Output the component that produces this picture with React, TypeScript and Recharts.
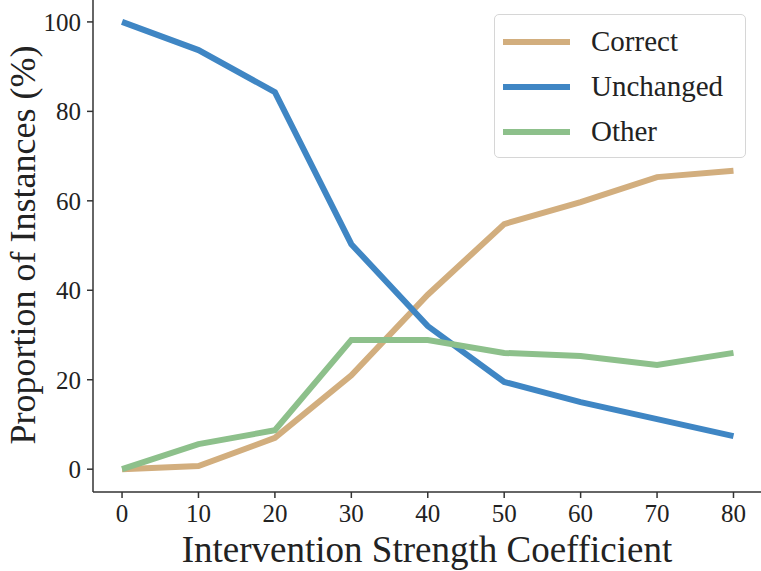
import { LineChart, Line, XAxis, YAxis } from 'recharts';

const strengths = [0, 10, 20, 30, 40, 50, 60, 70, 80];
const correct = [0, 0.7, 7, 21, 39, 54.8, 59.7, 65.3, 66.7];
const unchanged = [100, 93.7, 84.3, 50.3, 32, 19.5, 15, 11.2, 7.4];
const other = [0, 5.6, 8.7, 28.9, 28.9, 26, 25.3, 23.3, 26];
const xTicks = [0, 10, 20, 30, 40, 50, 60, 70, 80];
const yTicks = [0, 20, 40, 60, 80, 100];

const series = [
  { key: 'correct', name: 'Correct', color: '#d2ae7e' },
  { key: 'unchanged', name: 'Unchanged', color: '#3f86c4' },
  { key: 'other', name: 'Other', color: '#8dc08b' },
];

const FONT = '"Liberation Serif", "DejaVu Serif", serif';

const data = strengths.map((s, i) => ({
  s,
  correct: correct[i],
  unchanged: unchanged[i],
  other: other[i],
}));

function LegendBox() {
  return (
    <div
      style={{
        position: 'absolute',
        left: 494,
        top: 14,
        width: 252,
        height: 144,
        border: '1.5px solid #d6d6d6',
        borderRadius: 5,
        background: 'white',
        boxSizing: 'border-box',
        padding: '4px 0 0 8px',
        fontFamily: FONT,
        fontSize: 29,
        color: '#222',
      }}
    >
      {series.map((s) => (
        <div key={s.key} style={{ display: 'flex', alignItems: 'center', height: 45 }}>
          <div style={{ width: 67, height: 6, background: s.color, marginRight: 21 }} />
          <span>{s.name}</span>
        </div>
      ))}
    </div>
  );
}

export default function App() {
  return (
    <div style={{ position: 'absolute', left: 0, top: 0, width: 761, height: 571, background: 'white' }}>
      <LineChart width={761} height={571} data={data} margin={{ top: 0, right: 0, bottom: 0, left: 0 }}>
        <XAxis
          dataKey="s"
          type="number"
          domain={[-3.8, 83.6]}
          allowDataOverflow
          ticks={xTicks}
          height={79}
          stroke="#333"
          strokeWidth={1.5}
          tickSize={6}
          tickMargin={6}
          tick={{ fontFamily: FONT, fontSize: 25, fill: '#222' }}
          label={() => (
            <text x={427} y={562} textAnchor="middle" fontFamily={FONT} fontSize={37} fill="#222">
              Intervention Strength Coefficient
            </text>
          )}
        />
        <YAxis
          type="number"
          domain={[-5.1, 104.9]}
          allowDataOverflow
          ticks={yTicks}
          width={93}
          stroke="#333"
          strokeWidth={1.5}
          tickSize={6}
          tickMargin={6}
          tick={{ fontFamily: FONT, fontSize: 25, fill: '#222' }}
          label={() => (
            <text
              x={23}
              y={245}
              transform="rotate(-90 23 245)"
              textAnchor="middle"
              dominantBaseline="central"
              fontFamily={FONT}
              fontSize={36}
              fill="#222"
            >
              Proportion of Instances (%)
            </text>
          )}
        />
        {series.map((s) => (
          <Line
            key={s.key}
            dataKey={s.key}
            name={s.name}
            stroke={s.color}
            strokeWidth={6}
            dot={false}
            type="linear"
            isAnimationActive={false}
          />
        ))}
      </LineChart>
      <LegendBox />
    </div>
  );
}
